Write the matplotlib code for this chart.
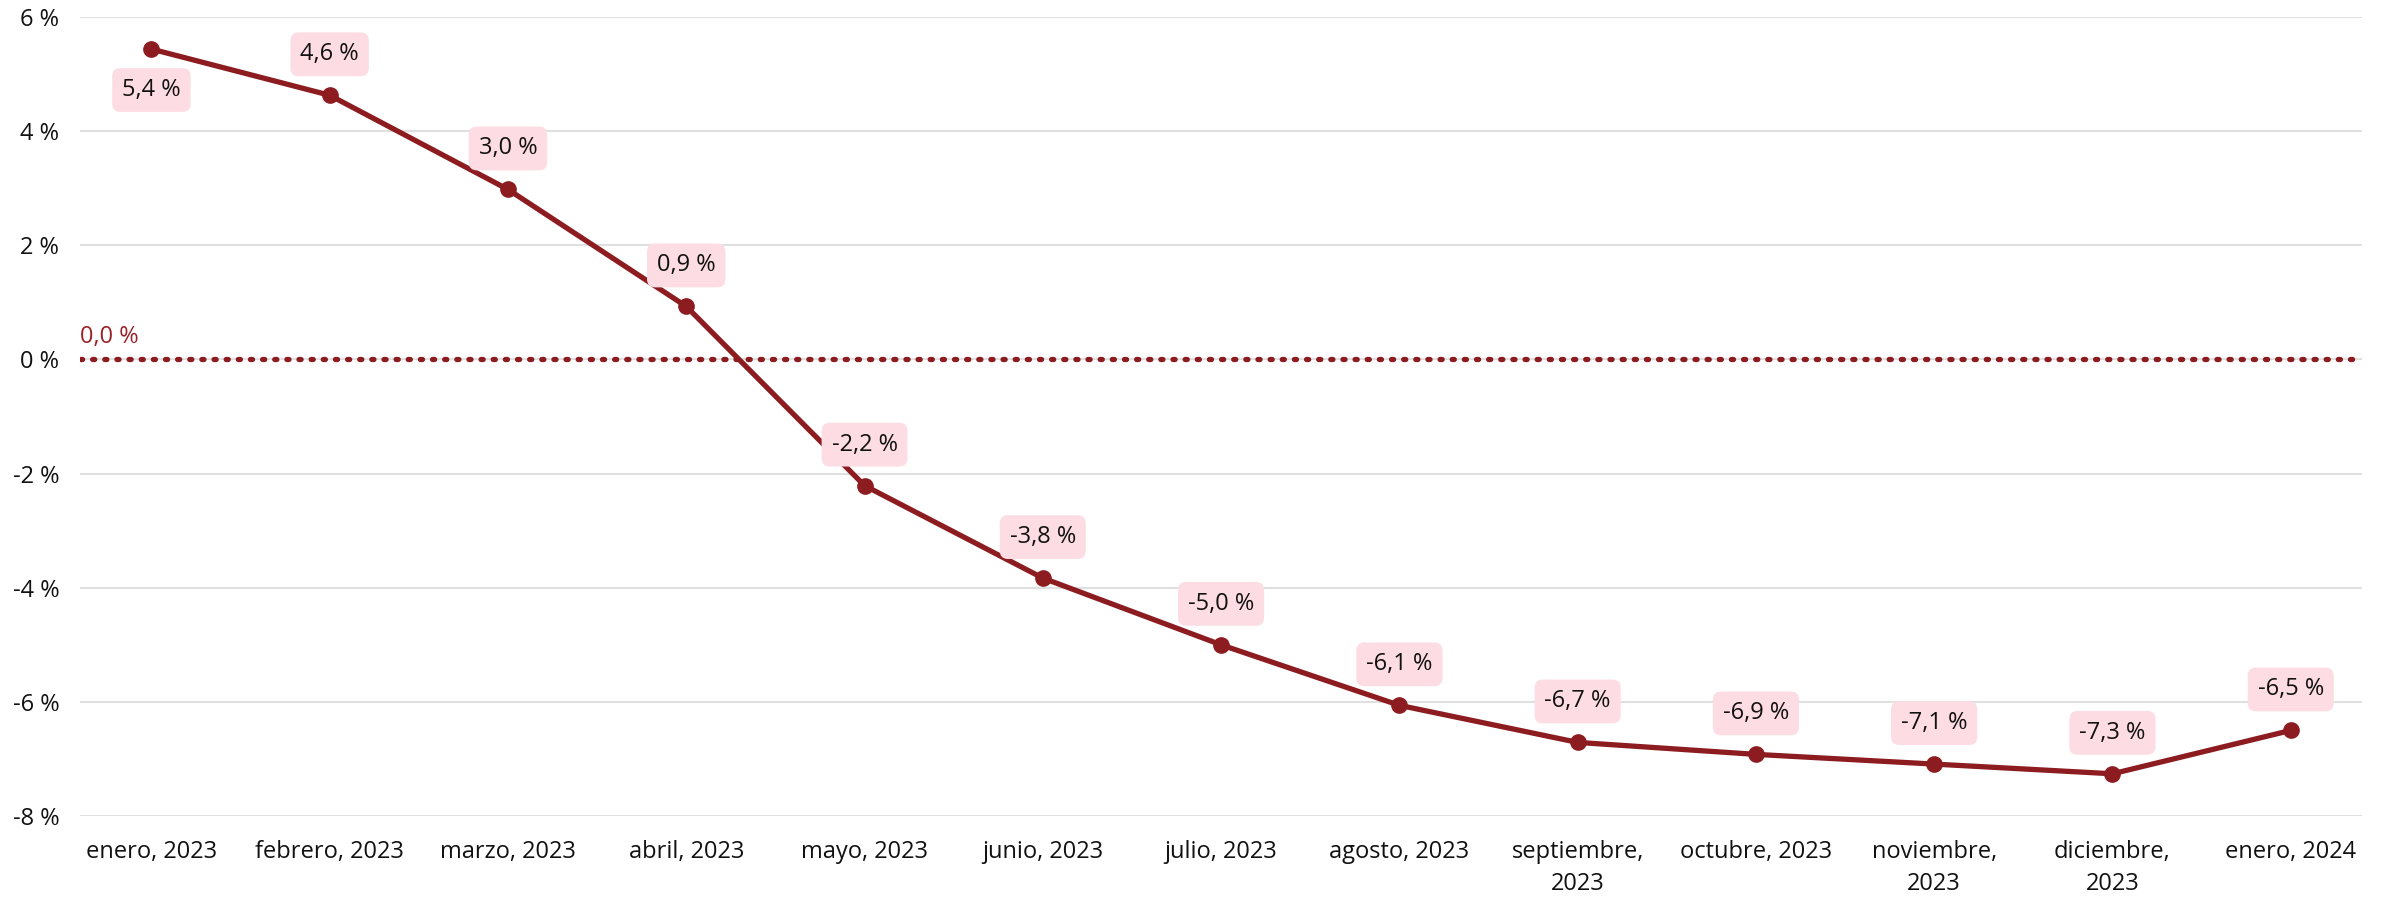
import matplotlib.pyplot as plt
from matplotlib.ticker import FuncFormatter

months = ["enero, 2023", "febrero, 2023", "marzo, 2023", "abril, 2023", "mayo, 2023",
          "junio, 2023", "julio, 2023", "agosto, 2023", "septiembre,\n2023", "octubre, 2023",
          "noviembre,\n2023", "diciembre,\n2023", "enero, 2024"]
values = [5.44, 4.63, 2.98, 0.93, -2.21, -3.83, -5.0, -6.06, -6.71, -6.92, -7.09, -7.26, -6.5]
label_below = [True] + [False] * 12
y_ticks = [-8, -6, -4, -2, 0, 2, 4, 6]

red = "#8c1c20"
plt.rcParams['font.family'] = ['Open Sans', 'DejaVu Sans']

fig = plt.figure(figsize=(23.84, 8.99), dpi=100)
ax = fig.add_axes([0.0336, 0.0923, 0.9572, 0.8887])

x = list(range(len(values)))
ax.plot(x, values, color=red, lw=3.8, marker='o', ms=11, zorder=4)
# dotted zero reference line
ax.axhline(0, color=red, lw=3.8, ls=(0, (0.4, 1.9)), dash_capstyle='round', zorder=3)
ax.text(-0.4, 0.18, "0,0 %", color="#9b2226", fontsize=17, ha='left', va='bottom')

for xi, v, below in zip(x, values, label_below):
    txt = f"{v:.1f} %".replace('.', ',')
    off = -29.5 if below else 29.5
    ax.annotate(txt, (xi, v), xytext=(0, off), textcoords='offset points',
                ha='center', va='center', fontsize=17, color='#111111', zorder=5,
                bbox=dict(boxstyle='round,pad=0.42,rounding_size=0.35', fc='#fddde3', ec='none'))

ax.set_xlim(-0.4, 12.4)
ax.set_ylim(-8, 6)
ax.set_yticks(y_ticks)
ax.yaxis.set_major_formatter(FuncFormatter(lambda v, p: f"{int(v)} %"))
ax.set_xticks(x)
ax.set_xticklabels(months, linespacing=1.45)
ax.tick_params(axis='both', length=0, labelsize=17, colors='#111111')
ax.tick_params(axis='y', pad=15)
ax.tick_params(axis='x', pad=17)
ax.grid(axis='y', color='#e0e0e0', lw=1.5)
ax.set_axisbelow(True)
for s in ax.spines.values():
    s.set_visible(False)

fig.savefig('out.png', dpi=100, facecolor='white')
